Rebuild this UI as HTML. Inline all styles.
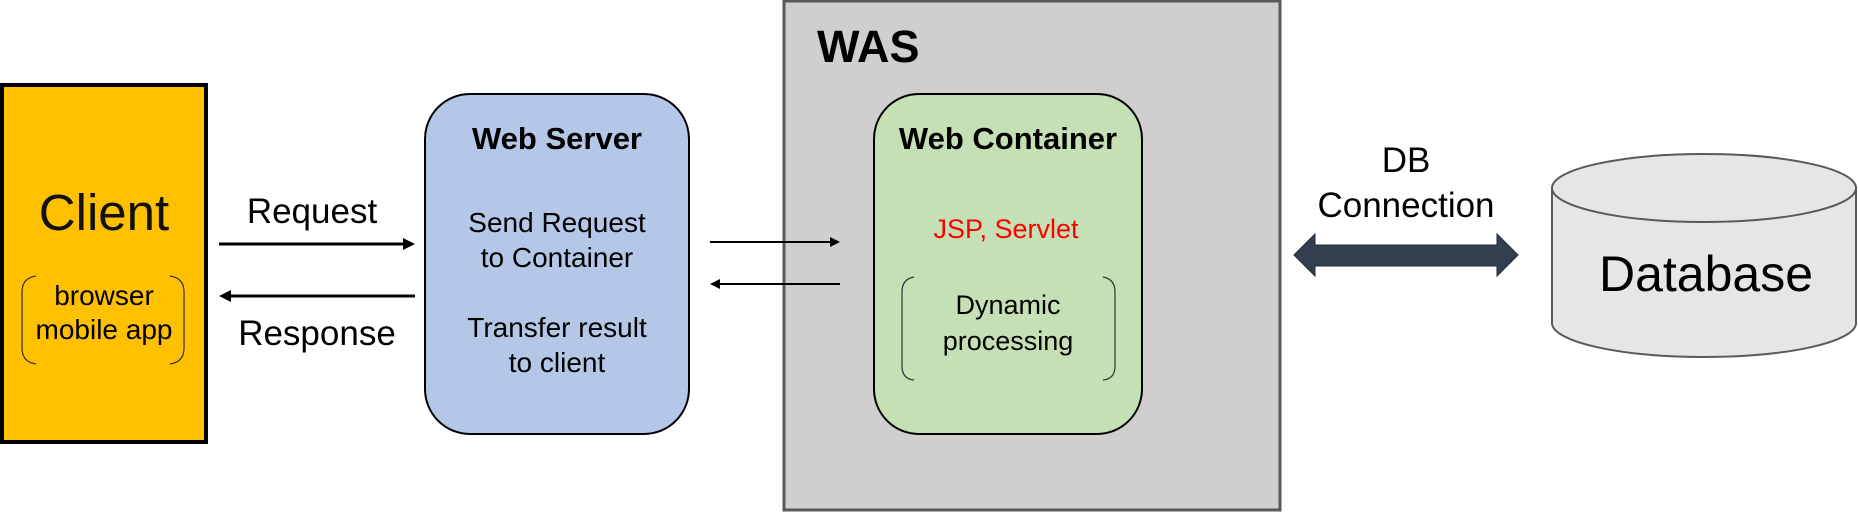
<!DOCTYPE html>
<html><head><meta charset="utf-8"><style>
html,body{margin:0;padding:0;background:#fff;}
svg{display:block;}
text{font-family:"Liberation Sans","Noto Sans CJK KR",sans-serif;}
</style></head><body>
<svg width="1858" height="512" viewBox="0 0 1858 512" xmlns="http://www.w3.org/2000/svg">
<!-- Client -->
<rect x="2" y="85" width="204" height="357" fill="#ffc000" stroke="#000" stroke-width="4"/>
<text x="104" y="230" font-size="51" text-anchor="middle" fill="#111">Client</text>
<path d="M36 276 Q22 278 22 292 L22 348 Q22 362 36 364" fill="none" stroke="#333" stroke-width="1.2"/>
<path d="M170 276 Q184 278 184 292 L184 348 Q184 362 170 364" fill="none" stroke="#333" stroke-width="1.2"/>
<text x="104" y="305" font-size="28" text-anchor="middle">browser</text>
<text x="104" y="339" font-size="28" text-anchor="middle">mobile app</text>
<!-- Request / Response -->
<text x="312" y="223" font-size="35" text-anchor="middle">Request</text>
<line x1="219" y1="244" x2="405" y2="244" stroke="#000" stroke-width="3"/>
<polygon points="415,244 403,238 403,250" fill="#000"/>
<line x1="227" y1="296" x2="415" y2="296" stroke="#000" stroke-width="3"/>
<polygon points="219,296 231,290 231,302" fill="#000"/>
<text x="317" y="345" font-size="35" text-anchor="middle">Response</text>
<!-- Web Server -->
<rect x="425" y="94" width="264" height="340" rx="45" ry="45" fill="#b4c7e7" stroke="#000" stroke-width="2"/>
<text x="557" y="149" font-size="31" font-weight="bold" text-anchor="middle">Web Server</text>
<text x="557" y="232" font-size="28" text-anchor="middle">Send Request</text>
<text x="557" y="267" font-size="28" text-anchor="middle">to Container</text>
<text x="557" y="337" font-size="28" text-anchor="middle">Transfer result</text>
<text x="557" y="372" font-size="28" text-anchor="middle">to client</text>
<!-- WAS -->
<rect x="784" y="1" width="496" height="509" fill="#d0cece" stroke="#595959" stroke-width="3"/>
<text x="817" y="62" font-size="45" font-weight="bold">WAS</text>
<!-- middle arrows -->
<line x1="710" y1="242" x2="832" y2="242" stroke="#000" stroke-width="2"/>
<polygon points="840,242 830,237 830,247" fill="#000"/>
<line x1="718" y1="284" x2="840" y2="284" stroke="#000" stroke-width="2"/>
<polygon points="710,284 720,279 720,289" fill="#000"/>
<rect x="874" y="94" width="268" height="340" rx="45" ry="45" fill="#c5e0b4" stroke="#000" stroke-width="2"/>
<text x="1008" y="149" font-size="31" font-weight="bold" text-anchor="middle">Web Container</text>
<text x="1006" y="238" font-size="27" text-anchor="middle" fill="#ff0000">JSP, Servlet</text>
<path d="M914 277 Q902 279 902 292 L902 366 Q902 379 914 380" fill="none" stroke="#333" stroke-width="1.2"/>
<path d="M1103 277 Q1115 279 1115 292 L1115 366 Q1115 379 1103 380" fill="none" stroke="#333" stroke-width="1.2"/>
<text x="1008" y="314" font-size="27" text-anchor="middle">Dynamic</text>
<text x="1008" y="350" font-size="27" text-anchor="middle">processing</text>
<!-- DB connection -->
<text x="1406" y="172" font-size="35" text-anchor="middle">DB</text>
<text x="1406" y="217" font-size="35" text-anchor="middle">Connection</text>
<polygon points="1294,255 1315,234 1315,245 1497,245 1497,234 1518,255 1497,276 1497,266 1315,266 1315,276" fill="#333f50" stroke="#1f2a3a" stroke-width="1"/>
<!-- Database cylinder -->
<path d="M1552 188 L1552 323 A152 34 0 0 0 1856 323 L1856 188" fill="#e7e6e6" stroke="#595959" stroke-width="2"/>
<ellipse cx="1704" cy="188" rx="152" ry="34" fill="#e7e6e6" stroke="#595959" stroke-width="2"/>
<text x="1706" y="291" font-size="50" text-anchor="middle">Database</text>
</svg>
</body></html>
